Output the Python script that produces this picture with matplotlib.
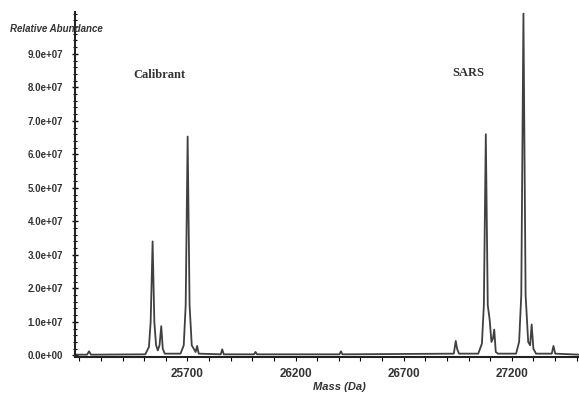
import matplotlib.pyplot as plt
from matplotlib.ticker import MultipleLocator, FuncFormatter

# espectro deconvolucionado: masa (Da) y abundancia relativa
mass = [25180, 25236, 25245, 25254,
        25505, 25522, 25530, 25539, 25547, 25555, 25563, 25571, 25579, 25586, 25595,
        25668, 25683, 25692, 25701, 25710, 25720, 25738, 25745, 25752,
        25854, 25861, 25868,
        26008, 26015, 26022,
        26403, 26410, 26417,
        26932, 26941, 26947, 26956,
        27045, 27062, 27071, 27080, 27089, 27098, 27106, 27113, 27119, 27126, 27136,
        27220, 27234, 27244, 27254, 27264, 27276, 27285, 27292, 27300, 27312,
        27385, 27393, 27401, 27515]
abundance = [0.02e7, 0.02e7, 0.12e7, 0.02e7,
             0.03e7, 0.25e7, 1.0e7, 3.4e7, 1.0e7, 0.3e7, 0.15e7, 0.3e7, 0.87e7, 0.2e7, 0.05e7,
             0.05e7, 0.3e7, 1.5e7, 6.53e7, 1.5e7, 0.3e7, 0.1e7, 0.28e7, 0.05e7,
             0.03e7, 0.18e7, 0.03e7,
             0.03e7, 0.1e7, 0.03e7,
             0.03e7, 0.12e7, 0.03e7,
             0.05e7, 0.43e7, 0.2e7, 0.05e7,
             0.05e7, 0.35e7, 1.5e7, 6.6e7, 1.5e7, 1.05e7, 0.4e7, 0.5e7, 0.77e7, 0.1e7, 0.05e7,
             0.05e7, 0.4e7, 1.8e7, 10.2e7, 1.8e7, 0.4e7, 0.3e7, 0.92e7, 0.2e7, 0.05e7,
             0.05e7, 0.28e7, 0.05e7, 0.02e7]

labels = ['Calibrant', 'SARS']
label_mass = [25570, 27000]
label_y = [8.36e7, 8.42e7]

y_ticks = [0, 1e7, 2e7, 3e7, 4e7, 5e7, 6e7, 7e7, 8e7, 9e7]
x_ticks = [25700, 26200, 26700, 27200]

fig = plt.figure(figsize=(5.79, 3.98), dpi=100)
ax = fig.add_axes([0.1295, 0.103, 0.872, 0.867])

ax.plot(mass, abundance, color='#404040', lw=1.3)

for t, x, y in zip(labels, label_mass, label_y):
    ax.text(x, y, t, family='Liberation Serif', fontsize=9, fontweight='bold',
            color='#333333', ha='center', va='center')

ax.set_xlim(25180, 27515)
ax.set_ylim(-0.05e7, 10.25e7)
ax.set_xticks(x_ticks)
ax.xaxis.set_minor_locator(MultipleLocator(100))
ax.set_yticks(y_ticks)
ax.yaxis.set_minor_locator(MultipleLocator(0.2e7))
ax.yaxis.set_major_formatter(FuncFormatter(lambda v, p: '{:.1e}'.format(v)))

for s in ['top', 'right']:
    ax.spines[s].set_visible(False)
for s in ['left', 'bottom']:
    ax.spines[s].set_linewidth(1.5)
    ax.spines[s].set_color('#222222')

ax.tick_params(axis='y', which='major', direction='inout', length=5, width=1,
               labelsize=7, labelcolor='#333333', pad=6)
ax.tick_params(axis='y', which='minor', direction='inout', length=3, width=0.8)
ax.tick_params(axis='x', which='both', direction='out', length=3, width=0.8,
               labelsize=8.5, labelcolor='#333333', pad=5)
for lab in ax.get_xticklabels() + ax.get_yticklabels():
    lab.set_family('Liberation Sans')
    lab.set_fontweight('bold')

fig.text(0.017, 0.927, 'Relative Abundance', family='Liberation Sans', fontsize=7,
         fontstyle='italic', fontweight='bold', color='#333333', va='center')
fig.text(0.587, 0.028, 'Mass (Da)', family='Liberation Sans', fontsize=8,
         fontstyle='italic', fontweight='bold', color='#333333', ha='center', va='center')

plt.savefig('out.png', dpi=100)
